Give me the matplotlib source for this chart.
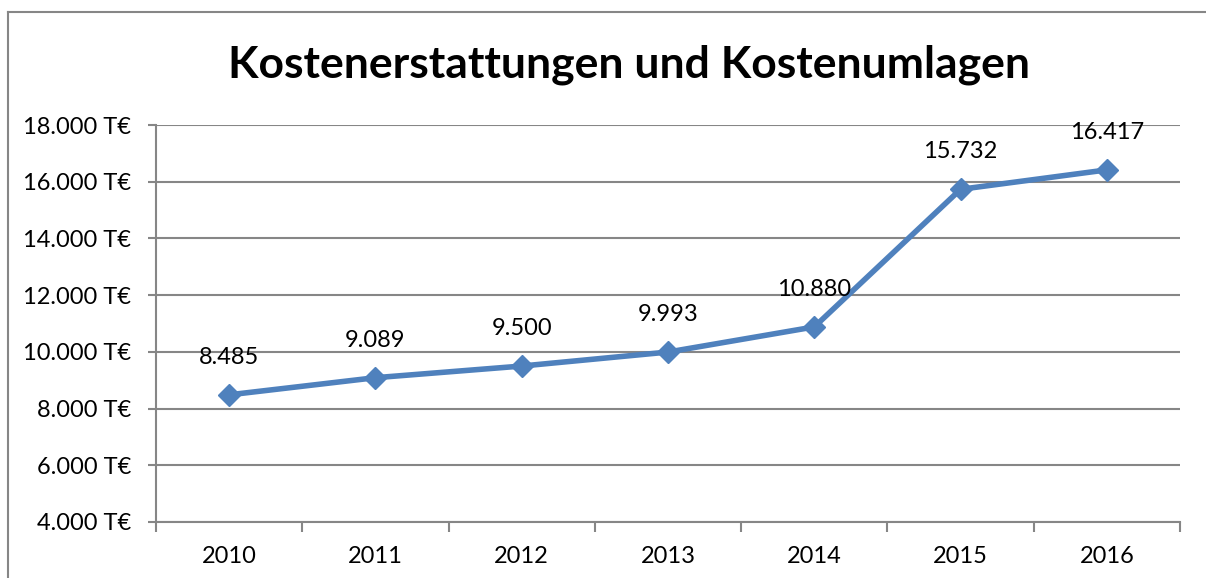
import matplotlib
matplotlib.use("Agg")
import matplotlib.pyplot as plt
from matplotlib.lines import Line2D

years = ["2010", "2011", "2012", "2013", "2014", "2015", "2016"]
values = [8485, 9089, 9500, 9993, 10880, 15732, 16417]
value_labels = ["8.485", "9.089", "9.500", "9.993", "10.880", "15.732", "16.417"]
yticks = [4000, 6000, 8000, 10000, 12000, 14000, 16000, 18000]
ytick_labels = ["4.000 T€", "6.000 T€", "8.000 T€", "10.000 T€", "12.000 T€",
                "14.000 T€", "16.000 T€", "18.000 T€"]
title = "Kostenerstattungen und Kostenumlagen"

W, H = 1206, 578
fig = plt.figure(figsize=(W / 100, H / 100), dpi=100)
fig.patch.set_facecolor("white")

FONT = "Lato"
FS = 17
grid_c = "#868686"

ax = fig.add_axes([156 / W, 1 - 522 / H, (1180 - 156) / W, (522 - 125) / H])
x = list(range(len(years)))
ax.plot(x, values, color="#4F81BD", lw=4, marker="D", markersize=11,
        markerfacecolor="#4F81BD", markeredgecolor="#4F81BD", zorder=3,
        solid_joinstyle="round")
ax.set_xlim(-0.5, len(years) - 0.5)
ax.set_ylim(4000, 18000)
ax.set_yticks(yticks)
ax.set_yticklabels(ytick_labels, fontfamily=FONT, fontsize=FS)
ax.set_xticks(x)
ax.set_xticklabels(years, fontfamily=FONT, fontsize=FS)
ax.tick_params(axis="x", length=0, pad=17)
ax.tick_params(axis="y", length=6, width=1.5, color=grid_c, pad=12)
ax.set_xticks([i - 0.5 for i in range(len(years) + 1)], minor=True)
ax.tick_params(axis="x", which="minor", length=7, width=1.5, color=grid_c)
ax.yaxis.grid(True, color=grid_c, lw=1.5)
ax.set_axisbelow(True)
for s in ["top", "right"]:
    ax.spines[s].set_visible(False)
ax.spines["left"].set_color(grid_c)
ax.spines["left"].set_linewidth(1.5)
ax.spines["bottom"].set_color(grid_c)
ax.spines["bottom"].set_linewidth(1.5)

for xi, v, lab in zip(x, values, value_labels):
    ax.annotate(lab, (xi, v), xytext=(0, 27), textcoords="offset points",
                ha="center", va="center", fontfamily=FONT, fontsize=FS,
                color="black", zorder=5)

fig.text(629 / W, 1 - 65 / H, title, ha="center", va="center",
         fontfamily=FONT, fontweight="bold", fontsize=32, color="black")

# chart border (left and top)
fig.add_artist(Line2D([7.5 / W, 7.5 / W], [0, 1 - 12 / H], color="#868686", lw=1.5,
                      transform=fig.transFigure))
fig.add_artist(Line2D([7.5 / W, 1], [1 - 12 / H, 1 - 12 / H], color="#868686", lw=1.5,
                      transform=fig.transFigure))

fig.savefig("out.png", dpi=100)
